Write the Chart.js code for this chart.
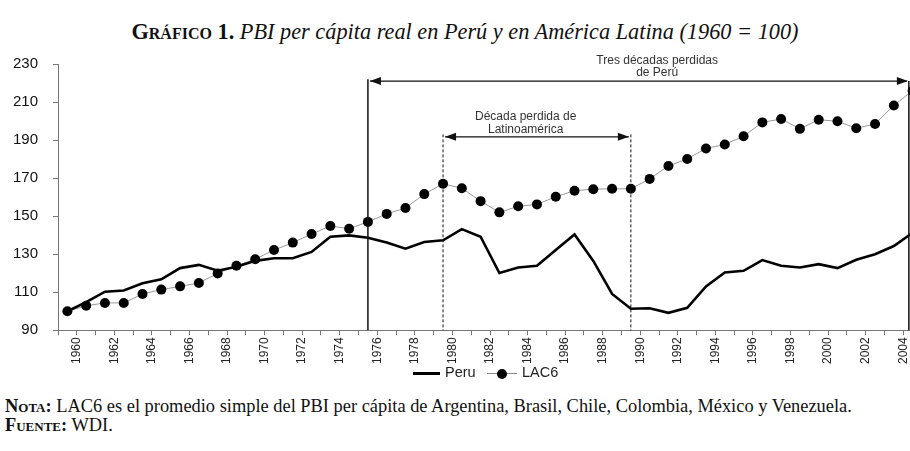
<!DOCTYPE html>
<html>
<head>
<meta charset="utf-8">
<script src="https://cdn.jsdelivr.net/npm/chart.js@4.4.0/dist/chart.umd.min.js"></script>
<style>
  html, body { margin: 0; padding: 0; background: #fff; overflow: hidden; width: 910px; height: 451px; }
  .title { position: absolute; top: 19px; left: 10px; width: 910px; text-align: center;
    font-family: "Liberation Serif", serif; font-size: 22.3px; color: #111; }
  .title b { font-variant: small-caps; }
  #chart-box { position: absolute; left: 0; top: 40px; width: 940px; height: 326px; }
  .legend { position: absolute; top: 364px; left: 0; width: 910px; height: 18px;
    font-family: "Liberation Sans", Arial, sans-serif; font-size: 14.5px; color: #222; }
  .legend span { position: absolute; }
  .peru-line { left: 413px; top: 8px; width: 27px; height: 3px; background: #000; }
  .peru-text { left: 445px; top: 0; }
  .lac-line { left: 487px; top: 9px; width: 30px; height: 1px; background: #888; }
  .lac-dot { left: 497px; top: 5px; width: 10px; height: 10px; border-radius: 50%; background: #000; }
  .lac-text { left: 522px; top: 0; }
  .notes { position: absolute; top: 397px; left: 5px; font-family: "Liberation Serif", serif;
    font-size: 18.4px; color: #111; line-height: 19px; white-space: nowrap; }
  .notes b { font-variant: small-caps; }
</style>
</head>
<body>
<div class="title"><b>Gráfico 1.</b> <i>PBI per cápita real en Perú y en América Latina (1960 = 100)</i></div>
<div id="chart-box"><canvas id="pbi-chart"></canvas></div>
<div class="legend">
  <span class="peru-line"></span><span class="peru-text">Peru</span>
  <span class="lac-line"></span><span class="lac-dot"></span><span class="lac-text">LAC6</span>
</div>
<div class="notes">
  <div><b>Nota:</b> LAC6 es el promedio simple del PBI per cápita de Argentina, Brasil, Chile, Colombia, México y Venezuela.</div>
  <div><b>Fuente:</b> WDI.</div>
</div>
<script>
const years = [1960, 1961, 1962, 1963, 1964, 1965, 1966, 1967, 1968, 1969,
  1970, 1971, 1972, 1973, 1974, 1975, 1976, 1977, 1978, 1979,
  1980, 1981, 1982, 1983, 1984, 1985, 1986, 1987, 1988, 1989,
  1990, 1991, 1992, 1993, 1994, 1995, 1996, 1997, 1998, 1999,
  2000, 2001, 2002, 2003, 2004, 2005];

const peru = [100, 104.8, 110.3, 110.9, 114.7, 116.8, 122.7, 124.4, 121.3, 123.4,
  126.5, 127.9, 127.9, 131.2, 139.2, 139.9, 138.7, 136.1, 132.9, 136.4,
  137.3, 143.2, 139.2, 120.1, 123, 123.9, 132.2, 140.4, 126.5, 109.1,
  101.3, 101.6, 99.2, 101.8, 113.1, 120.4, 121.3, 126.9, 123.9, 123,
  124.8, 122.7, 127.1, 130, 134.3, 141.3];

const lac6 = [100, 102.9, 104.4, 104.4, 109.1, 111.4, 113.1, 114.9, 119.9, 123.9,
  127.4, 132.2, 136.1, 140.6, 144.8, 143.4, 147, 151.2, 154.3, 161.6,
  167, 164.7, 157.9, 152, 155.2, 156.2, 160.2, 163.4, 164.2, 164.4,
  164.4, 169.6, 176.4, 180.1, 185.6, 187.7, 192, 199.3, 201.1, 195.9,
  200.7, 199.9, 196.2, 198.5, 208.2, 216];

const yTicks = [90, 110, 130, 150, 170, 190, 210, 230];

// annotation spans (year index on the x axis)
const peruSpan = [16, 44.8];
const latamSpan = [20, 30];

function arrowHead(ctx, x, y, dir) {
  ctx.beginPath();
  ctx.moveTo(x, y);
  ctx.lineTo(x - dir * 11, y - 4);
  ctx.lineTo(x - dir * 11, y + 4);
  ctx.closePath();
  ctx.fill();
}

const annotations = {
  id: 'annotations',
  afterDatasetsDraw(chart) {
    const ctx = chart.ctx;
    const x = chart.scales.x;
    const y = chart.scales.y;
    const bottom = chart.chartArea.bottom;
    ctx.save();
    ctx.strokeStyle = '#111';
    ctx.fillStyle = '#111';

    // three lost decades (Peru)
    const p0 = x.getPixelForValue(peruSpan[0]);
    const p1 = x.getPixelForValue(peruSpan[1]);
    const pTop = y.getPixelForValue(221);
    ctx.lineWidth = 1.5;
    ctx.beginPath();
    ctx.moveTo(p0, y.getPixelForValue(222)); ctx.lineTo(p0, bottom);
    ctx.moveTo(p1, pTop); ctx.lineTo(p1, bottom);
    ctx.stroke();
    ctx.lineWidth = 1.2;
    ctx.beginPath();
    ctx.moveTo(p0 + 2, pTop); ctx.lineTo(p1 - 2, pTop);
    ctx.stroke();
    arrowHead(ctx, p0 + 2, pTop, -1);
    arrowHead(ctx, p1 - 1, pTop, 1);

    // lost decade (Latin America)
    const l0 = x.getPixelForValue(latamSpan[0]);
    const l1 = x.getPixelForValue(latamSpan[1]);
    const lTop = y.getPixelForValue(191.7);
    ctx.lineWidth = 1;
    ctx.setLineDash([3, 2]);
    ctx.beginPath();
    ctx.moveTo(l0, y.getPixelForValue(193)); ctx.lineTo(l0, bottom);
    ctx.moveTo(l1, y.getPixelForValue(193)); ctx.lineTo(l1, bottom);
    ctx.stroke();
    ctx.setLineDash([]);
    ctx.lineWidth = 1.2;
    ctx.beginPath();
    ctx.moveTo(l0 + 2, lTop); ctx.lineTo(l1 - 2, lTop);
    ctx.stroke();
    arrowHead(ctx, l0 + 2, lTop, -1);
    arrowHead(ctx, l1 - 2, lTop, 1);

    ctx.font = '12px "Liberation Sans", Arial, sans-serif';
    ctx.fillStyle = '#333';
    ctx.textAlign = 'center';
    ctx.textBaseline = 'middle';
    const tx = x.getPixelForValue(31.4);
    ctx.fillText('Tres décadas perdidas', tx, y.getPixelForValue(232));
    ctx.fillText('de Perú', tx, y.getPixelForValue(225.2));
    const dx = x.getPixelForValue(24.4);
    ctx.fillText('Década perdida de', dx, y.getPixelForValue(202.2));
    ctx.fillText('Latinoamérica', dx, y.getPixelForValue(195.4));
    ctx.restore();
  }
};

const pbiCanvas = document.getElementById('pbi-chart');

const pbiData = {
  labels: years.map(String),
  datasets: [{
    label: 'Peru',
    data: peru,
    borderColor: '#000',
    borderWidth: 2.6,
    pointRadius: 0,
    tension: 0
  }, {
    label: 'LAC6',
    data: lac6,
    borderColor: '#999',
    borderWidth: 1,
    pointRadius: 5,
    pointBackgroundColor: '#000',
    pointBorderWidth: 0,
    tension: 0
  }]
};

const pbiOptions = {
  responsive: true,
  maintainAspectRatio: false,
  animation: false,
  layout: {
    padding: { top: 21.5, right: 18, left: 0, bottom: 0 }
  },
  scales: {
    x: {
      offset: true,
      grid: { offset: true, drawOnChartArea: false, tickLength: 5, color: '#777' },
      border: { color: '#777' },
      ticks: {
        autoSkip: false,
        minRotation: 90,
        maxRotation: 90,
        labelOffset: 9.4,
        padding: 2,
        color: '#222',
        font: { family: '"Liberation Sans", Arial, sans-serif', size: 12 },
        callback: (value, i) => (years[i] % 2 === 0 && years[i] <= 2004) ? String(years[i]) : ''
      }
    },
    y: {
      min: 90,
      max: 230,
      afterBuildTicks: (scale) => { scale.ticks = yTicks.map(v => ({ value: v })); },
      afterFit: (scale) => { scale.width = 58; },
      grid: { drawOnChartArea: false, tickLength: 5, color: '#777' },
      border: { color: '#777' },
      ticks: {
        padding: 15,
        color: '#111',
        font: { family: '"Liberation Sans", Arial, sans-serif', size: 15 }
      }
    }
  },
  plugins: {
    legend: { display: false },
    tooltip: { enabled: false }
  }
};

let pbiChart = new Chart(pbiCanvas, {
  type: 'line',
  data: pbiData,
  options: pbiOptions,
  plugins: [annotations]
});
</script>
</body>
</html>
